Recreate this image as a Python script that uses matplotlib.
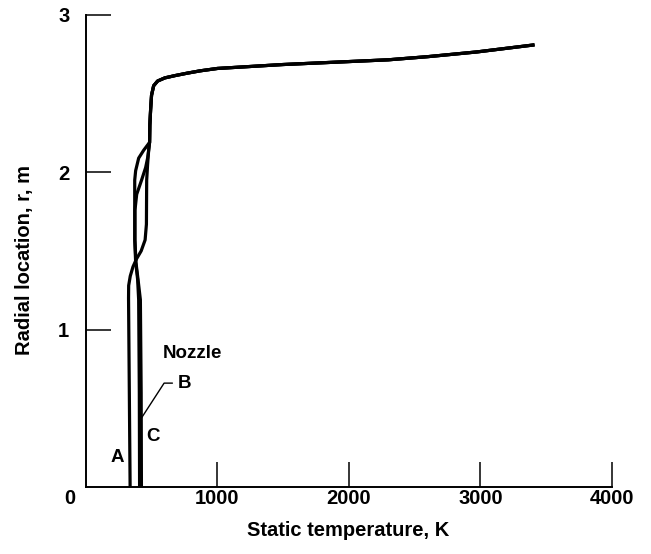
import matplotlib
matplotlib.use("Agg")
import matplotlib.pyplot as plt
from matplotlib.transforms import offset_copy

plt.rcParams['font.family'] = ['Liberation Sans', 'DejaVu Sans']
plt.rcParams['font.weight'] = 'bold'

# Shared upper profile (all curves merge above r ~ 2.2 m)
r_top = [2.19, 2.30, 2.40, 2.49, 2.55, 2.58, 2.60, 2.615, 2.63, 2.645, 2.66, 2.67, 2.685, 2.70, 2.715, 2.735, 2.765, 2.81]
T_top = [484, 486, 492, 499, 515, 545, 600, 680, 770, 870, 1000, 1200, 1500, 1900, 2300, 2600, 2973, 3411]

# Lower parts of the three profiles
r_A = [0.0, 0.6, 1.20, 1.28, 1.34, 1.40, 1.45, 1.50, 1.57, 1.67, 1.82, 1.95, 2.05, 2.14]
T_A = [336, 330, 324, 325, 337, 358, 385, 420, 450, 460, 461, 462, 469, 477]

r_B = [0.0, 0.6, 1.19, 1.32, 1.43, 1.57, 1.82, 1.95, 2.01, 2.09, 2.14]
T_B = [408, 406, 401, 393, 378, 371, 371, 371, 378, 401, 439]

r_C = [0.0, 0.6, 1.19, 1.32, 1.43, 1.57, 1.76, 1.86, 1.95, 2.03, 2.09, 2.14]
T_C = [422, 420, 414, 396, 380, 373, 373, 386, 423, 454, 469, 477]

x_ticks = [1000, 2000, 3000, 4000]
y_ticks = [1, 2, 3]

fig = plt.figure(figsize=(6.51, 5.54), dpi=100)
ax = fig.add_axes([0.132, 0.121, 0.808, 0.852])

for T, r in ((T_A, r_A), (T_B, r_B), (T_C, r_C)):
    ax.plot(T + T_top, r + r_top, color='black', lw=2.3, solid_capstyle='butt')

ax.set_xlim(0, 4000)
ax.set_ylim(0, 3)
ax.spines['top'].set_visible(False)
ax.spines['right'].set_visible(False)
ax.spines['left'].set_linewidth(1.4)
ax.spines['bottom'].set_linewidth(1.4)
ax.set_xticks(x_ticks)
ax.set_yticks(y_ticks)
ax.set_xticklabels([str(v) for v in x_ticks])
ax.set_yticklabels([str(v) for v in y_ticks])
ax.tick_params(axis='x', direction='in', length=18, width=1.1, pad=1.5, labelsize=14.5)
ax.tick_params(axis='y', direction='in', length=18, width=1.1, pad=12, labelsize=14.5)

# origin label, shifted left of the corner
ax.text(0, 0, '0', transform=offset_copy(ax.transData, fig=fig, x=-16, y=-2, units='dots'),
        ha='center', va='top', fontsize=14.5, fontweight='bold')

ax.set_xlabel('Static temperature, K', fontsize=14.5, fontweight='bold')
ax.set_ylabel('Radial location, r, m', fontsize=14.5, fontweight='bold')
ax.xaxis.set_label_coords(0.498, -0.072)
ax.yaxis.set_label_coords(-0.098, 0.48)

ax.text(242, 0.19, 'A', ha='center', va='center', fontsize=13.5, fontweight='bold')
ax.text(507, 0.32, 'C', ha='center', va='center', fontsize=13.5, fontweight='bold')
ax.text(812, 0.85, 'Nozzle', ha='center', va='center', fontsize=13.5, fontweight='bold')
ax.annotate('B', xy=(408, 0.42), xytext=(700, 0.66), ha='left', va='center',
            fontsize=13.5, fontweight='bold',
            arrowprops=dict(arrowstyle='-', lw=1.0, color='black', shrinkA=2, shrinkB=0,
                            connectionstyle='angle,angleA=0,angleB=57,rad=0'))

fig.savefig('out.png', dpi=100)
